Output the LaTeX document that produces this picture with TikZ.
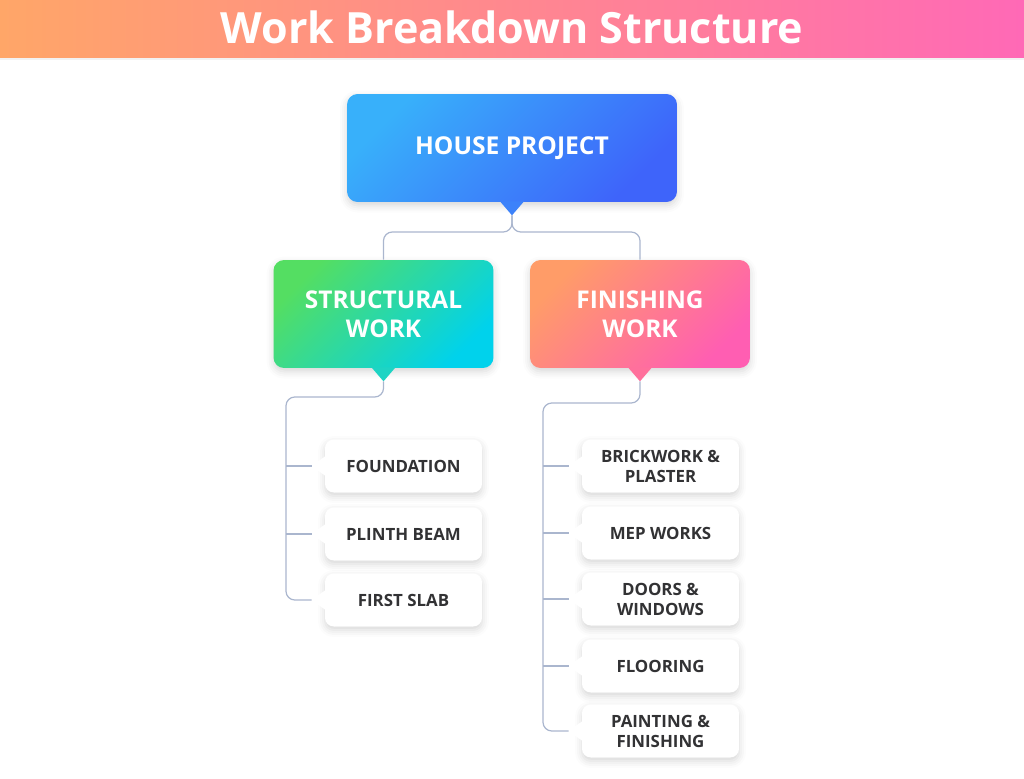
\documentclass[tikz,border=0pt]{standalone}
\usepackage{fontspec}
\setmainfont{Open Sans}
\usetikzlibrary{shapes,arrows.meta,calc,positioning,shadows.blur}

\begin{document}
\begin{tikzpicture}[
    x=0.02cm, y=-0.02cm,
    font=\bfseries,
]

\definecolor{headerOrange}{RGB}{255, 166, 104}
\definecolor{headerPink}{RGB}{255, 105, 182}
\definecolor{houseLight}{RGB}{56, 176, 250}
\definecolor{houseDark}{RGB}{62, 100, 250}
\definecolor{houseMid}{RGB}{60, 130, 250}
\definecolor{structLight}{RGB}{84, 222, 98}
\definecolor{structDark}{RGB}{0, 210, 236}
\definecolor{structMid}{RGB}{30, 212, 196}
\definecolor{finishLight}{RGB}{255, 156, 104}
\definecolor{finishDark}{RGB}{255, 94, 178}
\definecolor{finishMid}{RGB}{255, 112, 156}
\definecolor{linkColor}{RGB}{170, 182, 206}
\definecolor{leafText}{RGB}{50, 50, 52}

\tikzset{
    softshadow/.style = {blur shadow={shadow xshift=0pt, shadow yshift=-2pt,
                         shadow blur radius=4pt, shadow opacity=16}},
    mainbox/.style = {rectangle, rounded corners=6pt, minimum width=6.6cm, minimum height=2.16cm,
                      text=white, align=center, font=\fontsize{14}{17}\selectfont\bfseries,
                      left color=houseLight, right color=houseDark, shading angle=45, softshadow},
    groupbox/.style = {rectangle, rounded corners=6pt, minimum width=4.4cm, minimum height=2.16cm,
                       text=white, align=center, font=\fontsize{13.9}{16.5}\selectfont\bfseries, softshadow},
    leaf/.style = {rectangle, rounded corners=5pt, minimum width=3.14cm, minimum height=1.06cm,
                   fill=white, text=leafText, align=center,
                   font=\fontsize{9.6}{11.4}\selectfont\bfseries, softshadow},
    link/.style = {draw=linkColor, line width=0.7pt, rounded corners=5pt}
}

\useasboundingbox (0,0) rectangle (1024,778);

% =========== HEADER ===========
\shade[left color=headerOrange, right color=headerPink] (0,0) rectangle (1024,58);
\fill[black!5] (0,58) rectangle (1024,60);
\node[text=white, font=\fontsize{24.5}{29}\selectfont\bfseries] (title) at (512,27) {Work Breakdown Structure};

% =========== LEVEL 1 ===========
\node[mainbox] (house) at (512,148) {HOUSE PROJECT};
\fill[houseMid] ($(house.south)+(-12,-1)$) -- ($(house.south)+(0,13)$) -- ($(house.south)+(12,-1)$) -- cycle;
\coordinate (house_tip) at ($(house.south)+(0,13)$);

% =========== LEVEL 2 ===========
\node[groupbox, left color=structLight, right color=structDark, shading angle=45]
    (structural) at (383.5,314) {STRUCTURAL\\WORK};
\node[groupbox, left color=finishLight, right color=finishDark, shading angle=45]
    (finishing) at (640,314) {FINISHING\\WORK};

\fill[structMid] ($(structural.south)+(-12,-1)$) -- ($(structural.south)+(0,13)$) -- ($(structural.south)+(12,-1)$) -- cycle;
\coordinate (structural_tip) at ($(structural.south)+(0,13)$);
\fill[finishMid] ($(finishing.south)+(-12,-1)$) -- ($(finishing.south)+(0,13)$) -- ($(finishing.south)+(12,-1)$) -- cycle;
\coordinate (finishing_tip) at ($(finishing.south)+(0,13)$);

\coordinate (split) at (512,232);
\draw[link] (house_tip) -- (split) -| (structural.north);
\draw[link] (house_tip) -- (split) -| (finishing.north);

% =========== LEVEL 3: STRUCTURAL ===========
\node[leaf] (foundation) at (403.5,466) {FOUNDATION};
\node[leaf] (plinth) at (403.5,534) {PLINTH BEAM};
\node[leaf] (slab) at (403.5,600) {FIRST SLAB};

% =========== LEVEL 3: FINISHING ===========
\node[leaf] (brick) at (660.5,466) {BRICKWORK \&\\PLASTER};
\node[leaf] (mep) at (660.5,533) {MEP WORKS};
\node[leaf] (doors) at (660.5,599) {DOORS \&\\WINDOWS};
\node[leaf] (flooring) at (660.5,666) {FLOORING};
\node[leaf] (painting) at (660.5,731) {PAINTING \&\\FINISHING};

% pointers on the leaves
\foreach \n in {foundation, plinth, slab, brick, mep, doors, flooring, painting} {
    \fill[white] ($(\n.west)+(1,-10)$) -- ($(\n.west)+(-13,0)$) -- ($(\n.west)+(1,10)$) -- cycle;
    \coordinate (\n_tip) at ($(\n.west)+(-13,0)$);
}

% =========== CONNECTORS ===========
\coordinate (left_spine) at (286,397);
\coordinate (right_spine) at (543,403);

\draw[link] (structural_tip) |- (left_spine) |- (slab_tip);
\draw[link] (foundation_tip -| left_spine) -- (foundation_tip);
\draw[link] (plinth_tip -| left_spine) -- (plinth_tip);

\draw[link] (finishing_tip) |- (right_spine) |- (painting_tip);
\draw[link] (brick_tip -| right_spine) -- (brick_tip);
\draw[link] (mep_tip -| right_spine) -- (mep_tip);
\draw[link] (doors_tip -| right_spine) -- (doors_tip);
\draw[link] (flooring_tip -| right_spine) -- (flooring_tip);

\end{tikzpicture}
\end{document}
